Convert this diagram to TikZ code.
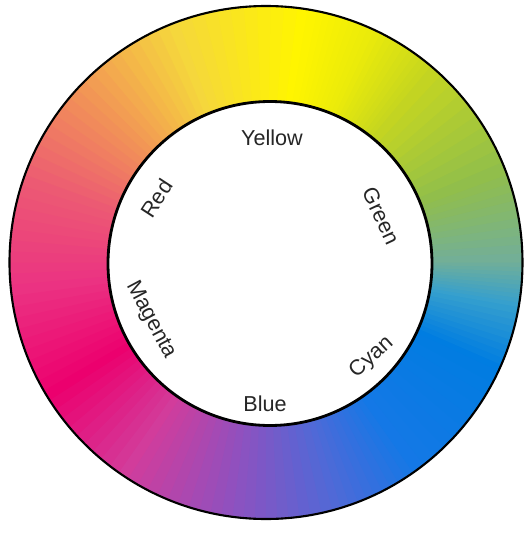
\documentclass[tikz,border=0pt]{standalone}
\usepackage{fontspec}
\setmainfont{Liberation Sans}
\definecolor{cA}{RGB}{255,245,0}
\definecolor{cB}{RGB}{245,215,60}
\definecolor{cC}{RGB}{242,150,85}
\definecolor{cD}{RGB}{236,90,115}
\definecolor{cE}{RGB}{235,50,130}
\definecolor{cF}{RGB}{236,0,110}
\definecolor{cG}{RGB}{210,60,155}
\definecolor{cH}{RGB}{145,80,190}
\definecolor{cI}{RGB}{80,105,215}
\definecolor{cJ}{RGB}{20,120,230}
\definecolor{cK}{RGB}{0,125,225}
\definecolor{cL}{RGB}{55,160,205}
\definecolor{cM}{RGB}{115,175,150}
\definecolor{cN}{RGB}{145,190,75}
\definecolor{cO}{RGB}{200,215,30}
\definecolor{cP}{RGB}{235,235,10}
\tikzset{
  hue/.style={font=\fontsize{6.15}{7}\selectfont, text=black!85, inner sep=0pt},
}
\begin{document}
\begin{tikzpicture}[x=1cm,y=1cm]
  \useasboundingbox (-2.66,-2.705) rectangle (2.58,2.625);
  % colour ring
  \foreach \a/\b/\ca/\cb in {80/110/cA/cB, 110/135/cB/cC, 135/160/cC/cD, 160/185/cD/cE,
      185/210/cE/cF, 210/235/cF/cG, 235/260/cG/cH, 260/285/cH/cI, 285/305/cI/cJ,
      305/335/cJ/cK, 335/350/cK/cL, 350/360/cL/cM, 360/380/cM/cN, 380/410/cN/cO,
      410/425/cO/cP, 425/440/cP/cA} {
    \foreach \t in {0,...,9} {
      \pgfmathsetmacro\s{\a+(\b-\a)*\t/10}
      \pgfmathsetmacro\e{\s+(\b-\a)/10+0.6}
      \pgfmathtruncatemacro\p{\t*10}
      \fill[\cb!\p!\ca] (\s:1.55) -- (\s:2.57) arc (\s:\e:2.57) -- (\e:1.55) arc (\e:\s:1.55) -- cycle;
    }
  }
  \fill[white] (0.04,-0.01) circle (1.625);
  \draw[line width=0.8pt] (0.04,-0.01) circle (1.62);
  \draw[line width=0.6pt] (0,0) circle (2.565);
  % labels
  \node[hue] (yellow) at (0.06,1.252) {Yellow};
  \node[hue, rotate=57] (red) at (-1.093,0.642) {Red};
  \node[hue, rotate=-65] (green) at (1.15,0.465) {Green};
  \node[hue, rotate=-62] (magenta) at (-1.153,-0.575) {Magenta};
  \node[hue, rotate=42] (cyan) at (1.057,-0.948) {Cyan};
  \node[hue] (blue) at (-0.01,-1.415) {Blue};
\end{tikzpicture}
\end{document}
